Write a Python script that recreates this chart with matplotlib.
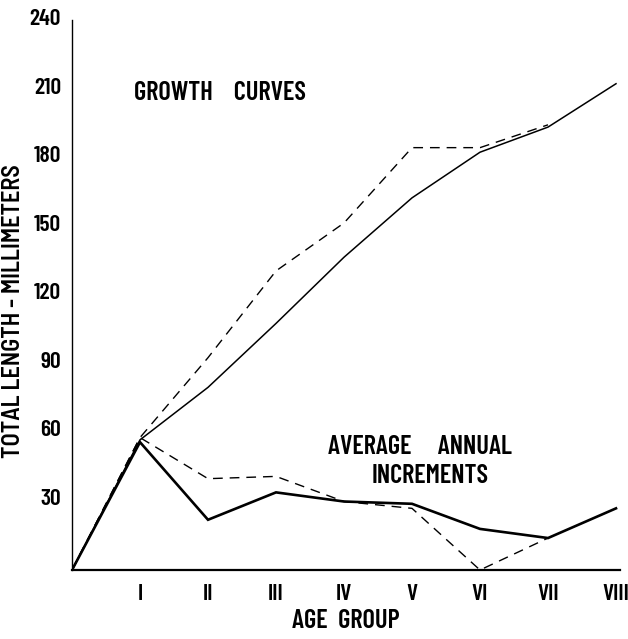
import matplotlib
matplotlib.use("Agg")
import matplotlib.pyplot as plt
import matplotlib.transforms as mtransforms

# ---- data ----
age = [0, 1, 2, 3, 4, 5, 6, 7, 8]
age_labels = ["I", "II", "III", "IV", "V", "VI", "VII", "VIII"]
growth_solid = [0, 57, 80, 108, 137, 163, 183, 194, 213]
growth_dashed = [0, 58, 93, 131, 152, 185, 185, 195]
incr_solid = [0, 56, 22, 34, 30, 29, 18, 14, 27]
incr_dashed = [0, 58, 40, 41, 30, 27, 0, 14]
yticks = [30, 60, 90, 120, 150, 180, 210, 240]

plt.rcParams["font.family"] = ["Barlow Condensed", "DejaVu Sans"]
W = 600

fig = plt.figure(figsize=(6.28, 6.39), dpi=100)
ax = fig.add_axes([72 / 628, 69 / 639, 548 / 628, 550 / 639])
ax.set_xlim(0, 548 / 68)
ax.set_ylim(0, 550 / 2.283)

ax.plot(age, growth_solid, color="black", lw=1.1, solid_joinstyle="miter")
ax.plot(age[:len(growth_dashed)], growth_dashed, color="black", lw=1.0,
        dashes=(7, 5))
ax.plot(age, incr_solid, color="black", lw=1.9, solid_joinstyle="miter")
ax.plot(age[:len(incr_dashed)], incr_dashed, color="black", lw=1.0,
        dashes=(7, 5))

for s in ["top", "right"]:
    ax.spines[s].set_visible(False)
ax.spines["left"].set_linewidth(1.0)
ax.spines["bottom"].set_linewidth(1.6)

ax.set_xticks(age[1:])
ax.set_xticklabels(age_labels, fontsize=17, fontweight=W)
ax.set_yticks(yticks)
ax.set_yticklabels([str(v) for v in yticks], fontsize=17, fontweight=W)
ax.tick_params(length=0)
ax.tick_params(axis="x", pad=10)
ax.tick_params(axis="y", pad=8)
off = mtransforms.ScaledTranslation(0, 5 / 100, fig.dpi_scale_trans)
for lab in ax.get_yticklabels():
    lab.set_transform(lab.get_transform() + off)

ax.set_xlabel("AGE  GROUP", fontsize=19, fontweight=W, labelpad=4)
ax.set_ylabel("TOTAL LENGTH - MILLIMETERS", fontsize=17.5, fontweight=W,
              family=["Barlow Semi Condensed", "DejaVu Sans"])
ax.yaxis.set_label_coords(-0.086, 0.471)

ax.text(2.18, 209, "GROWTH    CURVES", fontsize=19, fontweight=W,
        ha="center", va="center")
ax.text(5.12, 54, "AVERAGE     ANNUAL", fontsize=19, fontweight=W,
        ha="center", va="center")
ax.text(5.27, 41, "INCREMENTS", fontsize=19, fontweight=W,
        ha="center", va="center")

fig.savefig("out.png", dpi=100)
